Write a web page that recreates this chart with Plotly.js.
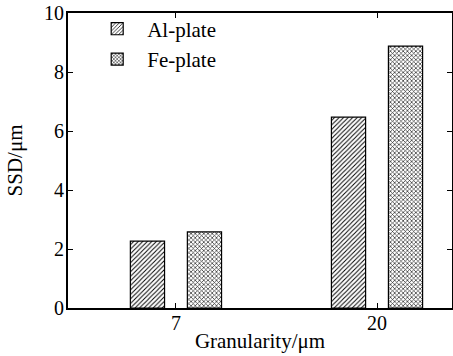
<!DOCTYPE html>
<html>
<head>
<meta charset="utf-8">
<script src="https://cdn.plot.ly/plotly-3.0.1.min.js"></script>
<style>html,body{margin:0;padding:0;background:#fff;}#chart{width:453px;height:356px;}</style>
</head>
<body>
<div id="chart"></div>
<script>
const categories = ["7", "20"];
const seriesNames = ["Al-plate", "Fe-plate"];
const alPlate = [2.27, 6.47];
const fePlate = [2.58, 8.88];
const yTicks = [0, 2, 4, 6, 8, 10];

const fam = "Liberation Serif, Times New Roman, serif";

const traces = [
  {
    type: "bar", name: seriesNames[0], x: categories, y: alPlate,
    marker: {color: "#fff", line: {color: "#000", width: 1.2},
      pattern: {shape: "/", size: 3.2, solidity: 0.3, fgcolor: "#000", bgcolor: "#fff"}}
  },
  {
    type: "bar", name: seriesNames[1], x: categories, y: fePlate,
    marker: {color: "#fff", line: {color: "#000", width: 1.2},
      pattern: {shape: "x", size: 3, solidity: 0.4, fgcolor: "#222", bgcolor: "#fff"}}
  }
];

const layout = {
  width: 453, height: 356,
  margin: {l: 68, r: 1, t: 13, b: 48},
  paper_bgcolor: "#fff", plot_bgcolor: "#fff",
  font: {family: fam, color: "#000", size: 20},
  barmode: "group", bargap: 0.433, bargroupgap: 0.40,
  showlegend: true,
  legend: {x: 0.05, y: 1.015, xanchor: "left", yanchor: "top", bgcolor: "rgba(0,0,0,0)",
    font: {family: fam, size: 21, color: "#000"}, itemwidth: 50, tracegroupgap: 0},
  xaxis: {
    type: "category", range: [-0.537, 1.373],
    showline: true, linecolor: "#000", linewidth: 2, mirror: "ticks",
    ticks: "inside", ticklen: 5, tickcolor: "#000", tickwidth: 1,
    showgrid: false, zeroline: false,
    ticklabelstandoff: -4,
    tickfont: {family: fam, size: 20, color: "#000"},
    title: {text: "Granularity/μm", font: {family: fam, size: 21, color: "#000"}, standoff: 0}
  },
  yaxis: {
    range: [0, 10], tickvals: yTicks, ticktext: yTicks.map(String),
    showline: true, linecolor: "#000", linewidth: 2, mirror: "ticks",
    ticks: "inside", ticklen: 5, tickcolor: "#000", tickwidth: 1,
    showgrid: false, zeroline: false,
    ticklabelstandoff: -2,
    tickfont: {family: fam, size: 20, color: "#000"},
    title: {text: "SSD/μm", font: {family: fam, size: 21, color: "#000"}, standoff: 16}
  }
};

Plotly.newPlot("chart", traces, layout, {staticPlot: true, displayModeBar: false});
</script>
</body>
</html>
